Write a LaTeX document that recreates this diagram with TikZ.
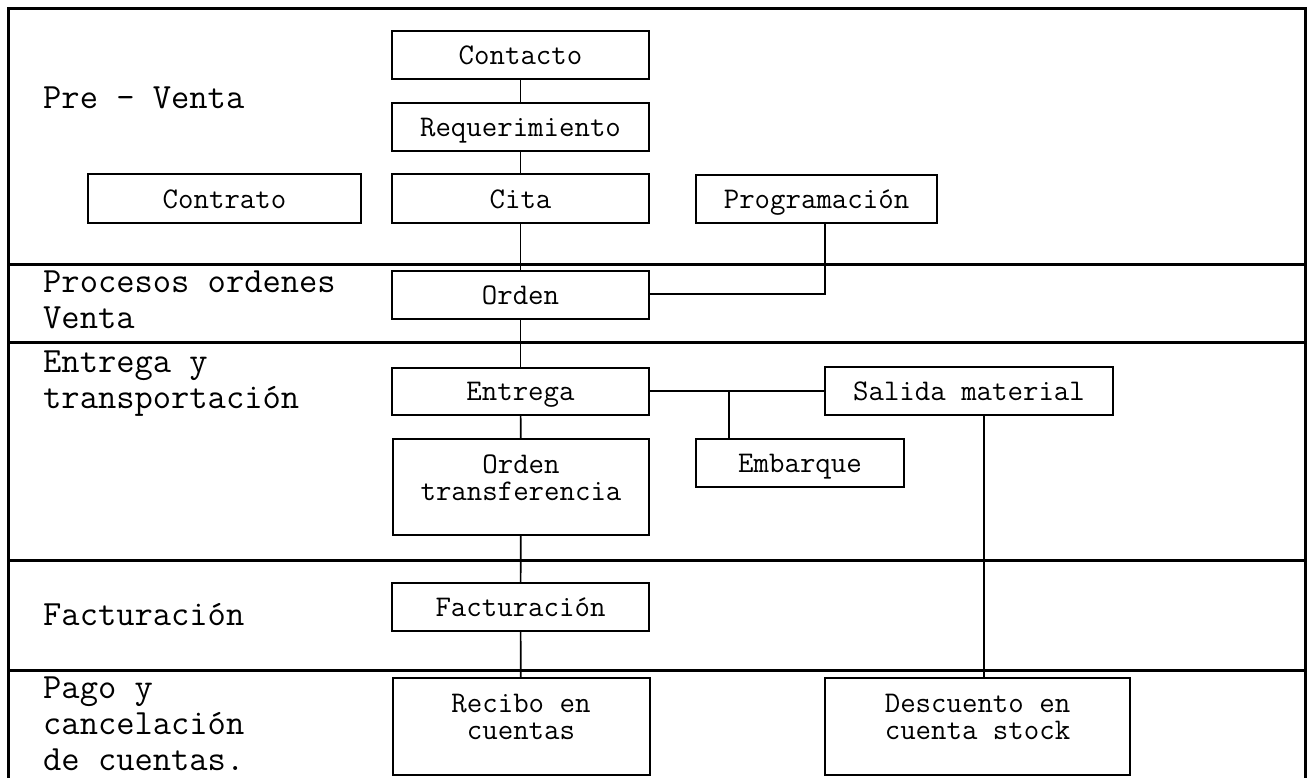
\documentclass[tikz,border=0pt]{standalone}
\usepackage{fontspec}
\begin{document}
\begin{tikzpicture}[x=1pt,y=-1pt,
  frame/.style={line width=3pt,line cap=rect},
  box/.style={draw,line width=2pt,rectangle,inner sep=0pt,font=\ttfamily\fontsize{30}{27.5}\selectfont,text height=23pt,text depth=4pt},
  boxtext/.style={inner sep=0pt,align=center,font=\ttfamily\fontsize{30}{27}\selectfont},
  lane/.style={anchor=base west,inner sep=0pt,font=\ttfamily\fontsize{35.5}{37}\selectfont,text height=25pt,text depth=7pt},
  conn/.style={line width=1.7pt}]
\useasboundingbox (0,0) rectangle (1311,778);
\clip (0,0) rectangle (1311,778);
% frame and lanes
\draw[frame] (8,800) -- (8,9) -- (1305,9) -- (1305,800);
\draw[frame] (8,264) -- (1305,264);
\draw[frame] (8,342) -- (1305,342);
\draw[frame] (8,560) -- (1305,560);
\draw[frame] (8,670) -- (1305,670);
% lane labels
\node[lane] (l1) at (43,109) {Pre - Venta};
\node[lane] (l2a) at (43,292) {Procesos ordenes};
\node[lane] (l2b) at (43,328.5) {Venta};
\node[lane] (l3a) at (43,372) {Entrega y};
\node[lane] (l3b) at (43,408.5) {transportación};
\node[lane] (l4) at (43,625) {Facturación};
\node[lane] (l5a) at (43,698) {Pago y};
\node[lane] (l5b) at (43,734.5) {cancelación};
\node[lane] (l5c) at (43,770.5) {de cuentas.};
% boxes
\node[box,minimum width=257,minimum height=48] (contacto) at (520.5,55) {Contacto};
\node[box,minimum width=257,minimum height=48] (req) at (520.5,127) {Requerimiento};
\node[box,minimum width=257,minimum height=49] (cita) at (520.5,198.5) {Cita};
\node[box,minimum width=273,minimum height=49] (contrato) at (224.5,198.5) {Contrato};
\node[box,minimum width=241,minimum height=48] (prog) at (816.5,199) {Programación};
\node[box,minimum width=257,minimum height=48] (orden) at (520.5,295) {Orden};
\node[box,minimum width=257,minimum height=47] (ent) at (520.5,391) {Entrega};
\node[box,minimum width=288,minimum height=48] (sal) at (969,391) {Salida material};
\node[box,minimum width=208,minimum height=48] (emb) at (800,463) {Embarque};
\node[box,minimum width=256,minimum height=96] (ot) at (521,487) {};
\node[boxtext] (ott) at (521,477.5) {Orden\\transferencia};
\node[box,minimum width=257,minimum height=48] (fact) at (520.5,607) {Facturación};
\node[box,minimum width=257,minimum height=97] (rec) at (521,726.5) {};
\node[boxtext] (rect) at (521,716.5) {Recibo en\\cuentas};
\node[box,minimum width=305,minimum height=97] (desc) at (977.5,726.5) {};
\node[boxtext] (desct) at (977.5,717) {Descuento en\\cuenta stock};
% connector helpers
\coordinate (pj) at (825,294);
\coordinate (ej) at (729,391);
\coordinate (sx) at (984,500);
% connectors
\draw[conn] (contacto) -- (req);
\draw[conn] (req) -- (cita);
\draw[conn] (cita) -- (orden);
\draw[conn] (prog.south -| pj) -- (pj) -- (orden.east |- pj);
\draw[conn] (orden) -- (ent);
\draw[conn] (ent.east) -- (sal.west);
\draw[conn] (ej) -- (emb.north -| ej);
\draw[conn] (ent) -- (ot);
\draw[conn] (ot) -- (fact);
\draw[conn] (fact) -- (rec);
\draw[conn] (sal.south -| sx) -- (desc.north -| sx);
\end{tikzpicture}
\end{document}
